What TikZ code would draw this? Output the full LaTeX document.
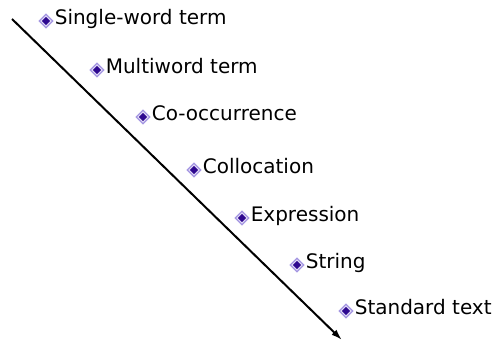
\documentclass[tikz,border=0pt]{standalone}
\usepackage{fontspec}
\setmainfont{DejaVu Sans}
\usetikzlibrary{shapes.geometric, arrows.meta, positioning}
\definecolor{bulletrim}{HTML}{A496E2}
\definecolor{bulletcore}{HTML}{2E0890}
\tikzset{
  % bullet a rombo (bordo lilla, cuore viola scuro)
  bulletout/.style={diamond, draw=bulletrim, line width=1.2pt, fill=bulletrim!30,
    minimum size=14pt, inner sep=0pt},
  bulletin/.style={diamond, fill=bulletcore, minimum size=8.5pt, inner sep=0pt},
  % voce della scala
  term/.style={font=\fontsize{20}{24}\selectfont, inner sep=0pt,
    text height=0.8em, text depth=0.07em},
  % freccia diagonale
  scale arrow/.style={line width=2pt, -{Latex[length=11pt, width=7pt]}},
}
\begin{document}
\begin{tikzpicture}[x=1pt, y=-1pt]
  \useasboundingbox (0,0) rectangle (496,342);
  \coordinate (top) at (12,19);
  \coordinate (bottom) at (342,340);
  \draw[scale arrow] (top) -- (bottom);
  \foreach \i/\x/\y/\txt in {1/46/21/Single-word term, 2/97/70/Multiword term,
      3/143/117/Co-occurrence, 4/194/170/Collocation, 5/242/218/Expression,
      6/297/265/String, 7/346/311/Standard text}{
    \node[bulletout] (b\i) at (\x,\y) {};
    \node[bulletin] (c\i) at (b\i.center) {};
    \node[term, right=1pt of b\i] (t\i) {\txt};
  }
\end{tikzpicture}
\end{document}
